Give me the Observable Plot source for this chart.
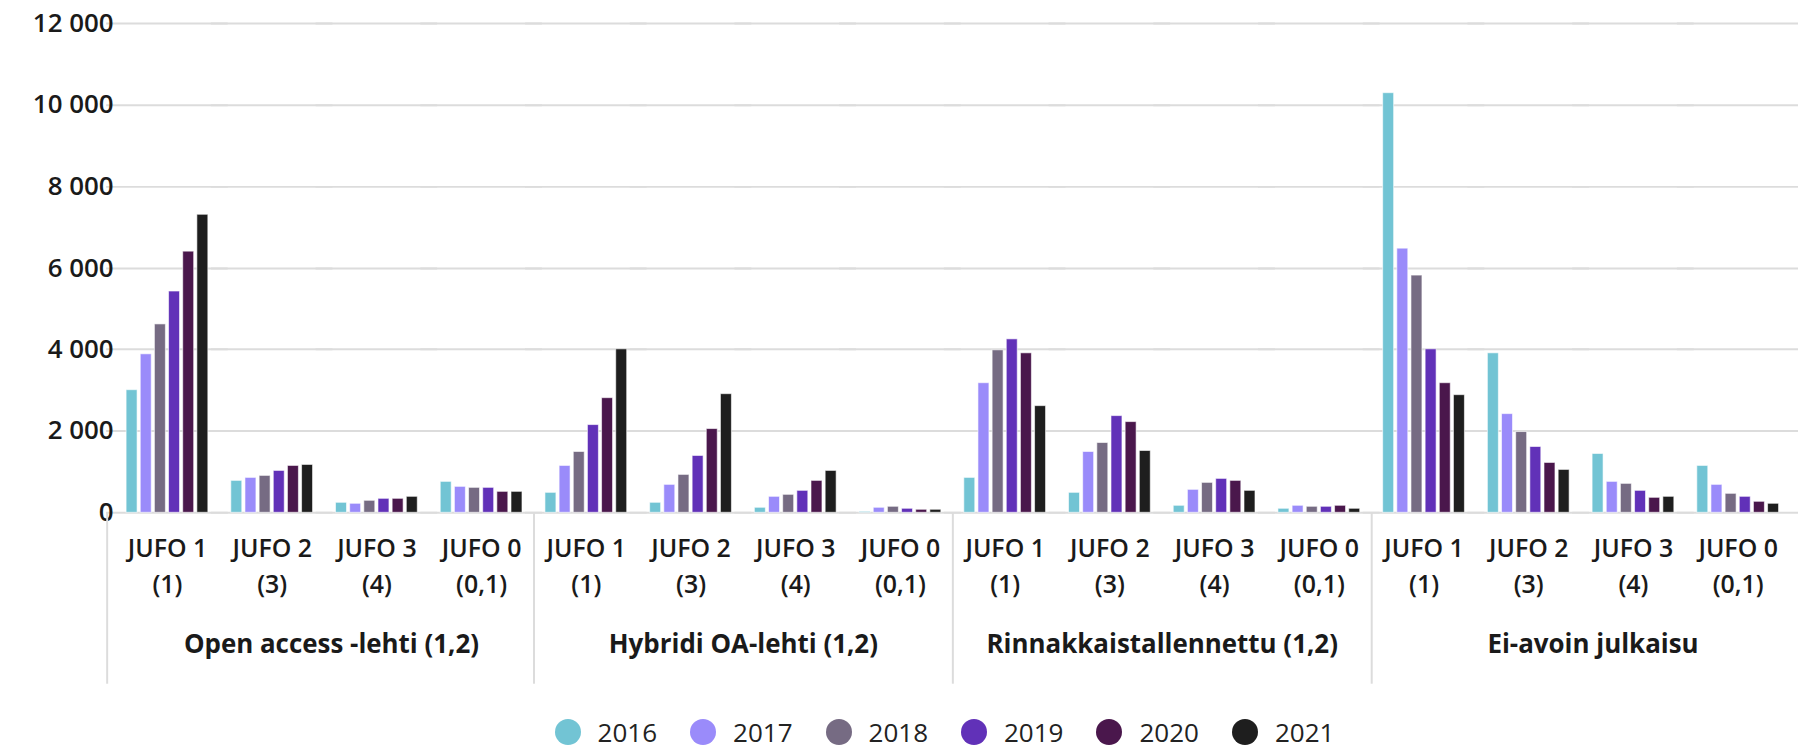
<!DOCTYPE html>
<html>
<head>
<meta charset="utf-8">
<script src="https://cdn.jsdelivr.net/npm/d3@7"></script>
<script src="https://cdn.jsdelivr.net/npm/@observablehq/plot@0.6"></script>
<style>
  html, body { margin: 0; padding: 0; background: #fff; width: 1798px; height: 748px; overflow: hidden; }
  #chart svg { display: block; }
  #legend { display: flex; justify-content: center; align-items: center; height: 58px; padding-left: 91px;
            font-family: "Open Sans", sans-serif; font-size: 26px; color: #222; }
  #legend .item { display: flex; align-items: center; margin-right: 33px; }
  #legend .item:last-child { margin-right: 0; }
  #legend .dot { width: 26px; height: 26px; border-radius: 50%; margin-right: 17px; }
</style>
</head>
<body>
<div id="chart"></div>
<div id="legend"></div>
<script>
// ---- data ----
const years = ["2016", "2017", "2018", "2019", "2020", "2021"];
const yearColors = ["#72c4d4", "#9a8bfa", "#766b83", "#6131b8", "#4a174c", "#1e1e1e"];
const types = ["Open access -lehti (1,2)", "Hybridi OA-lehti (1,2)", "Rinnakkaistallennettu (1,2)", "Ei-avoin julkaisu"];
const jufoLevels = ["JUFO 1", "JUFO 2", "JUFO 3", "JUFO 0"];
const jufoNotes = ["(1)", "(3)", "(4)", "(0,1)"];
const yTicks = [0, 2000, 4000, 6000, 8000, 10000, 12000];

// values per JUFO level (rows) and year (columns)
const openAccess = [
  [3000, 3880, 4630, 5420, 6400, 7300],
  [770, 865, 905, 1020, 1155, 1170],
  [245, 230, 295, 330, 330, 395],
  [760, 625, 610, 620, 520, 520]
];
const hybridi = [
  [480, 1150, 1500, 2145, 2800, 4010],
  [235, 690, 920, 1385, 2060, 2915],
  [120, 390, 430, 545, 790, 1035],
  [35, 130, 155, 100, 65, 65]
];
const rinnakkais = [
  [845, 3185, 3990, 4250, 3900, 2615],
  [480, 1500, 1710, 2380, 2230, 1525],
  [165, 570, 725, 825, 790, 540],
  [90, 165, 155, 140, 165, 105]
];
const eiAvoin = [
  [10300, 6485, 5820, 4005, 3175, 2880],
  [3920, 2415, 1970, 1605, 1220, 1060],
  [1450, 750, 715, 530, 365, 380],
  [1145, 675, 465, 400, 270, 210]
];
const seriesByType = [openAccess, hybridi, rinnakkais, eiAvoin];

// ---- table ----
const slotKey = (t, j) => t + "|" + j;
const slotKeys = types.flatMap(t => jufoLevels.map(j => slotKey(t, j)));
const rows = [];
types.forEach((t, ti) => jufoLevels.forEach((j, ji) => years.forEach((y, yi) => {
  rows.push({type: t, jufo: j, slot: slotKey(t, j), year: y, value: seriesByType[ti][ji][yi]});
})));

const locale = d3.formatLocale({decimal: ",", thousands: " ", grouping: [3], currency: ["", " €"]});
const fmt = locale.format(",");

const W = 1804, H = 705, mTop = 23, mBottom = 191, mLeft = 107;
const frameH = H - mTop - mBottom;
const gridColor = "#dcdcdc";
const font = "Open Sans";
const sepStyle = {insetTop: frameH, insetBottom: -172, stroke: gridColor, strokeWidth: 2};
const labelStyle = {frameAnchor: "bottom", dy: 141, fontSize: 26, fontWeight: "bold", fill: "#1a1a1a"};
const firstSlot = t => slotKey(t, jufoLevels[0]);
const secondSlot = t => slotKey(t, jufoLevels[1]);

const plot = Plot.plot({
  width: W,
  height: H,
  marginLeft: mLeft,
  marginRight: 0,
  marginTop: mTop,
  marginBottom: mBottom,
  style: {fontFamily: font, fontSize: "26px", color: "#1a1a1a", background: "#fff", overflow: "visible"},
  fx: {domain: slotKeys, paddingInner: 0.2194, paddingOuter: 0.1856, round: false, label: null},
  x: {domain: years, paddingInner: 0.225, paddingOuter: 0, round: false, axis: null},
  y: {domain: [0, 12000], label: null, round: true},
  color: {domain: years, range: yearColors},
  marks: [
    Plot.gridY(yTicks, {stroke: gridColor, strokeOpacity: 1, strokeWidth: 2, insetLeft: -20, insetRight: -20}),
    Plot.axisY({ticks: yTicks, tickFormat: fmt, tickSize: 0, tickPadding: 13, fontSize: 26, fontWeight: 600, label: null}),
    // section separators below the baseline
    Plot.ruleX(types.slice(1), {fx: firstSlot, x: () => years[0], dx: -17, ...sepStyle}),
    Plot.ruleX(types.slice(0, 1), {fx: firstSlot, x: () => years[0], dx: -25, ...sepStyle}),
    Plot.barY(rows, {fx: "slot", x: "year", y: "value", fill: "year", stroke: "white", strokeWidth: 1, strokeOpacity: 0.6}),
    Plot.axisFx({
      anchor: "bottom",
      tickFormat: k => { const j = k.split("|")[1]; const i = jufoLevels.indexOf(j); return j + "\n" + jufoNotes[i]; },
      tickSize: 0, tickPadding: 19, lineHeight: 1.45, fontSize: 25, fontWeight: 600, label: null
    }),
    // section labels, centred between the 2nd and 3rd JUFO groups of each section
    Plot.text(types.slice(0, 1), {fx: secondSlot, x: () => years[5], text: d => d, dx: 24, ...labelStyle}),
    Plot.text(types.slice(1, 3), {fx: secondSlot, x: () => years[5], text: d => d, dx: 17, ...labelStyle}),
    Plot.text(types.slice(3), {fx: secondSlot, x: () => years[5], text: d => d, dx: 29, ...labelStyle})
  ]
});
document.getElementById("chart").appendChild(plot);

// ---- legend from the plot's color scale ----
const color = plot.scale("color");
const legend = document.getElementById("legend");
color.domain.forEach((d, i) => {
  const item = document.createElement("span");
  item.className = "item";
  const dot = document.createElement("span");
  dot.className = "dot";
  dot.style.background = color.range[i];
  const label = document.createElement("span");
  label.textContent = d;
  item.appendChild(dot);
  item.appendChild(label);
  legend.appendChild(item);
});
</script>
</body>
</html>
